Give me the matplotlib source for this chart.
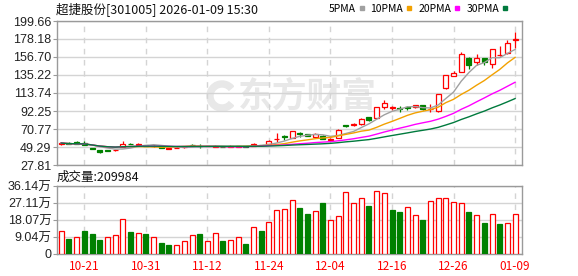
import matplotlib
matplotlib.use('Agg')
import matplotlib.pyplot as plt
from matplotlib.lines import Line2D
from matplotlib.patches import Wedge
import numpy as np
import pandas as pd

plt.rcParams['font.family'] = ['Liberation Sans', 'Noto Sans CJK SC']

# 超捷股份 daily candles, 2025-10-16 .. 2026-01-09
title = '超捷股份[301005] 2026-01-09 15:30'
opens = [52.3, 53.7, 55.2, 54.1, 48.4, 45.7, 45.7, 45.3, 49.3, 53.3,
         52.2, 51.3, 49.9, 49.3, 47.4, 48.2, 48.7, 51.9, 50.9, 50.5,
         49.4, 49.6, 49.4, 49.5, 50.8, 50.6, 52.0, 52.5, 58.3, 62.0,
         59.9, 66.5, 64.3, 61.3, 62.8, 58.0, 59.8, 75.6, 75.2, 76.4,
         84.7, 84.3, 97.2, 96.0, 95.6, 97.0, 97.4, 99.3, 94.6, 92.3,
         119.3, 134.2, 138.5, 155.9, 150.5, 155.2, 148.0, 158.6, 161.2, 177.5]
highs = [54.3, 54.9, 55.9, 56.0, 48.6, 45.9, 45.9, 46.2, 56.5, 53.8,
         53.7, 51.6, 51.1, 49.5, 48.2, 48.8, 49.4, 52.7, 52.3, 51.0,
         51.6, 49.8, 51.2, 51.0, 51.0, 53.6, 52.2, 57.3, 65.6, 63.6,
         68.8, 67.2, 64.5, 66.3, 63.2, 59.8, 70.2, 75.9, 77.8, 83.5,
         85.2, 97.6, 105.0, 98.6, 97.9, 98.6, 100.0, 99.6, 100.5, 112.5,
         135.4, 140.4, 162.3, 156.5, 159.9, 155.5, 166.5, 169.8, 177.0, 186.3]
lows = [52.0, 52.3, 52.5, 52.0, 46.7, 42.6, 44.7, 45.0, 49.0, 52.3,
        52.0, 50.3, 49.7, 48.4, 47.2, 48.0, 48.5, 50.7, 48.5, 50.3,
        49.2, 49.0, 49.3, 49.3, 49.4, 50.2, 50.8, 52.2, 55.6, 58.0,
        59.5, 61.5, 62.5, 61.0, 58.3, 57.5, 59.5, 73.0, 74.5, 76.0,
        80.8, 84.0, 95.0, 93.5, 90.7, 93.5, 96.0, 94.0, 91.0, 91.5,
        119.0, 133.8, 138.2, 142.0, 147.5, 147.0, 143.2, 158.3, 160.8, 167.0]
closes = [54.0, 52.6, 52.9, 52.2, 47.0, 43.7, 45.0, 45.9, 52.9, 52.6,
          53.3, 50.6, 50.9, 48.6, 48.0, 48.6, 49.2, 51.5, 50.4, 50.6,
          50.8, 49.2, 50.6, 50.7, 49.6, 53.2, 51.3, 56.8, 59.3, 61.3,
          68.3, 64.6, 63.0, 64.3, 59.0, 59.2, 69.8, 74.8, 76.3, 82.3,
          81.2, 97.4, 101.4, 96.9, 94.8, 95.7, 98.9, 94.9, 95.2, 112.0,
          135.0, 137.1, 159.8, 147.0, 155.0, 151.2, 166.2, 159.6, 173.0, 178.5]
volumes = [123000, 80700, 91000, 123000, 107000, 72000, 91000, 102000, 184000, 117500,
           112000, 107000, 91000, 60000, 49000, 49000, 70000, 102000, 107000, 70000,
           112000, 70000, 75000, 91000, 54000, 144000, 123000, 170000, 233000, 239000,
           286000, 246000, 214000, 228000, 270000, 181000, 202000, 328000, 270000, 296000,
           254000, 333000, 323000, 233000, 223000, 249000, 207000, 181000, 281000, 296000,
           296000, 275000, 270000, 223000, 207000, 167000, 212000, 160000, 165000, 209984]

ma_periods = [5, 10, 20, 30]
ma_colors = ['#a0a0a0', '#f2a100', '#ff00ff', '#007a3d']
price_ticks = [27.81, 49.29, 70.77, 92.25, 113.74, 135.22, 156.70, 178.18, 199.66]
vol_ticks = [0, 90400, 180700, 271100, 361400]
vol_tick_labels = ['0', '9.04万', '18.07万', '27.11万', '36.14万']

dates = pd.bdate_range('2025-10-16', '2026-01-09', freq='C',
                       holidays=['2026-01-01', '2026-01-02'])

RED = '#ff0000'
GREEN = '#008000'
GRID = '#d4d4d4'
BORDER = '#9a9a9a'
WM = '#e8e8e8'
W, H = 578, 276

def fx(px):
    return px / W

def fy(py):
    return 1 - py / H

o = np.array(opens); h = np.array(highs); l = np.array(lows); c = np.array(closes)
v = np.array(volumes)
x = np.arange(len(c))
up = c >= o
vol_up = np.r_[True, c[1:] >= c[:-1]]

fig = plt.figure(figsize=(W / 100, H / 100), dpi=100)
ax = fig.add_axes([fx(57), fy(165), fx(522) - fx(57), fy(21) - fy(165)])
axv = fig.add_axes([fx(57), fy(254), fx(522) - fx(57), fy(186) - fy(254)])

tick_pos = x[3::8]
tick_lab = [d.strftime('%m-%d') for d in dates[3::8]]

for a in (ax, axv):
    a.set_xlim(-0.55, len(c) - 0.1)
    a.set_xticks(tick_pos)
    a.xaxis.grid(True, color=GRID, lw=1, ls=(0, (4, 4)))
    a.yaxis.grid(True, color=GRID, lw=1, ls='-')
    a.set_axisbelow(True)
    for s in a.spines.values():
        s.set_color(BORDER)
        s.set_linewidth(1)
    a.tick_params(axis='y', length=3, width=0.8, color=BORDER, labelsize=9,
                  labelcolor='#222222', pad=1)

# watermark (logo + name)
ax.add_patch(Wedge((2.22, (H - 96) / 100), 0.15, 40, 320, width=0.06, color=WM,
                   transform=fig.dpi_scale_trans, zorder=0))
ax.text(fx(307), fy(96), '东方财富', transform=fig.transFigure, ha='center', va='center',
        fontsize=25, fontweight='bold', color=WM, family=['Noto Sans CJK SC'], zorder=0)

# candles
bb = np.minimum(o, c)
bt = np.maximum(o, c)
bh = np.maximum(bt - bb, 0.3)
ax.vlines(x[up], l[up], bb[up], color=RED, lw=0.9, zorder=2)
ax.vlines(x[up], bt[up], h[up], color=RED, lw=0.9, zorder=2)
ax.vlines(x[~up], l[~up], h[~up], color=GREEN, lw=0.9, zorder=2)
ax.bar(x[up], bh[up], bottom=bb[up], width=0.65, facecolor='white', edgecolor=RED, lw=0.9, zorder=3)
ax.bar(x[~up], bh[~up], bottom=bb[~up], width=0.65, facecolor=GREEN, edgecolor=GREEN, lw=0.9, zorder=3)

cs = pd.Series(c)
for n, col in zip(ma_periods, ma_colors):
    ax.plot(x, cs.rolling(n, min_periods=1).mean(), color=col, lw=1, zorder=4)

ax.set_ylim(price_ticks[0], price_ticks[-1])
ax.set_yticks(price_ticks)
ax.set_yticklabels(['%.2f' % t for t in price_ticks])
ax.tick_params(axis='x', length=0, labelbottom=False)

# volume
axv.bar(x[vol_up], v[vol_up], width=0.65, facecolor='white', edgecolor=RED, lw=0.9, zorder=3)
axv.bar(x[~vol_up], v[~vol_up], width=0.65, facecolor=GREEN, edgecolor=GREEN, lw=0.9, zorder=3)
axv.set_ylim(0, vol_ticks[-1])
axv.set_yticks(vol_ticks)
axv.set_yticklabels(vol_tick_labels)
axv.set_xticklabels(tick_lab)
axv.tick_params(axis='x', length=0, pad=4, labelsize=8.5, labelcolor=RED)
for t in axv.get_xticklabels():
    t.set_family(['Noto Sans CJK SC'])

# texts
fig.text(fx(56), fy(9), title, ha='left', va='center', fontsize=9,
         family=['Noto Sans CJK SC'], color='#111111')
fig.text(fx(57), fy(177), '成交量:%d' % v[-1], ha='left', va='center', fontsize=9,
         family=['Noto Sans CJK SC'], color='#111111')

handles = [Line2D([], [], ls='none', marker='s', markersize=3.5, color=col) for col in ma_colors]
fig.legend(handles, ['%dPMA' % n for n in ma_periods], loc='center right',
           bbox_to_anchor=(fx(513), fy(9)), ncol=4, frameon=False, markerfirst=False,
           handlelength=0.5, handletextpad=0.35, columnspacing=0.6, borderpad=0,
           prop={'family': ['Noto Sans CJK SC'], 'size': 7.5})

fig.savefig('out.png', dpi=100, facecolor='white')
